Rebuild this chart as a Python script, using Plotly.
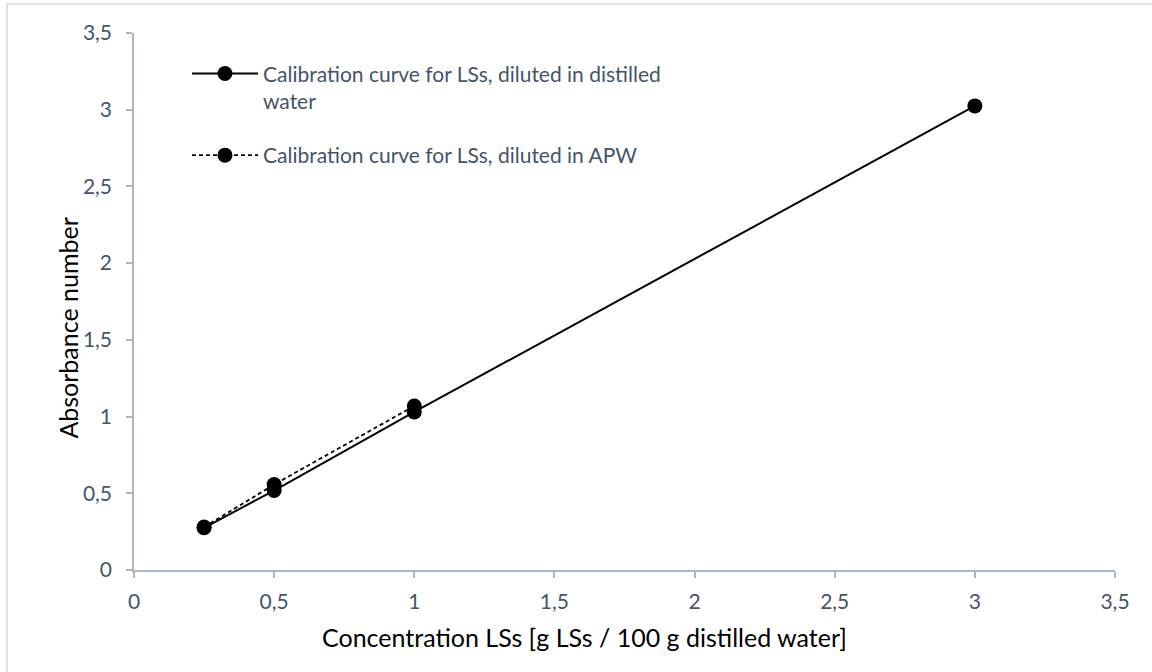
import plotly.graph_objects as go

# Concentration of LSs [g LSs / 100 g distilled water]
conc_water = [0.25, 0.5, 1, 3]
abs_water = [0.275, 0.518, 1.03, 3.025]

conc_apw = [0.25, 0.5, 1]
abs_apw = [0.28, 0.557, 1.069]

tick_vals = [0, 0.5, 1, 1.5, 2, 2.5, 3, 3.5]
tick_text = ["0", "0,5", "1", "1,5", "2", "2,5", "3", "3,5"]

x_title = "Concentration LSs [g LSs / 100 g distilled water]"
y_title = "Absorbance number"

FONT = "Lato"
LABEL_COLOR = "#44546A"
AXIS_COLOR = "#A9B6C8"

fig = go.Figure()

fig.add_trace(go.Scatter(
    x=conc_water, y=abs_water, mode="lines+markers",
    name="Calibration curve for LSs, diluted in distilled<br>water",
    line=dict(color="black", width=2),
    marker=dict(color="black", size=15),
    legendgroup="water",
))
fig.add_trace(go.Scatter(
    x=conc_apw, y=abs_apw, mode="lines+markers",
    name="Calibration curve for LSs, diluted in APW",
    line=dict(color="black", width=1.8, dash="4px,3px"),
    marker=dict(color="black", size=15),
    legendgroup="apw",
))

axis_common = dict(
    showgrid=False, zeroline=False, showline=True,
    linecolor=AXIS_COLOR, linewidth=1.5,
    ticks="outside", ticklen=6, tickcolor=AXIS_COLOR, tickwidth=1.5,
    tickvals=tick_vals, ticktext=tick_text,
    range=[0, 3.5],
    tickfont=dict(family=FONT, size=21, color=LABEL_COLOR),
)

fig.update_xaxes(axis_common, ticklabelstandoff=6)
fig.update_yaxes(axis_common, ticklabelstandoff=10)

title_font = dict(family=FONT, size=25, color="black")

fig.update_layout(
    width=1152, height=672,
    margin=dict(l=134, r=37, t=33, b=102),
    paper_bgcolor="white", plot_bgcolor="white",
    showlegend=True,
    legend=dict(
        x=0.054, y=0.962, xanchor="left", yanchor="top",
        bgcolor="rgba(0,0,0,0)", itemwidth=66, valign="top",
        tracegroupgap=24,
        font=dict(family=FONT, size=21, color=LABEL_COLOR),
    ),
    annotations=[
        dict(text=x_title, xref="paper", yref="paper", x=0.459, y=-0.125,
             xanchor="center", yanchor="middle", showarrow=False, font=title_font),
        dict(text=y_title, xref="paper", yref="paper", x=-0.067, y=0.45,
             xanchor="center", yanchor="middle", textangle=-90, showarrow=False,
             font=title_font),
    ],
    shapes=[dict(
        type="rect", xref="paper", yref="paper",
        x0=-127 / 981, y0=-110 / 537, x1=1.2, y1=1 + 29 / 537,
        line=dict(color="#D9D9D9", width=1.5), layer="below",
    )],
)

fig.write_html("out.html")
